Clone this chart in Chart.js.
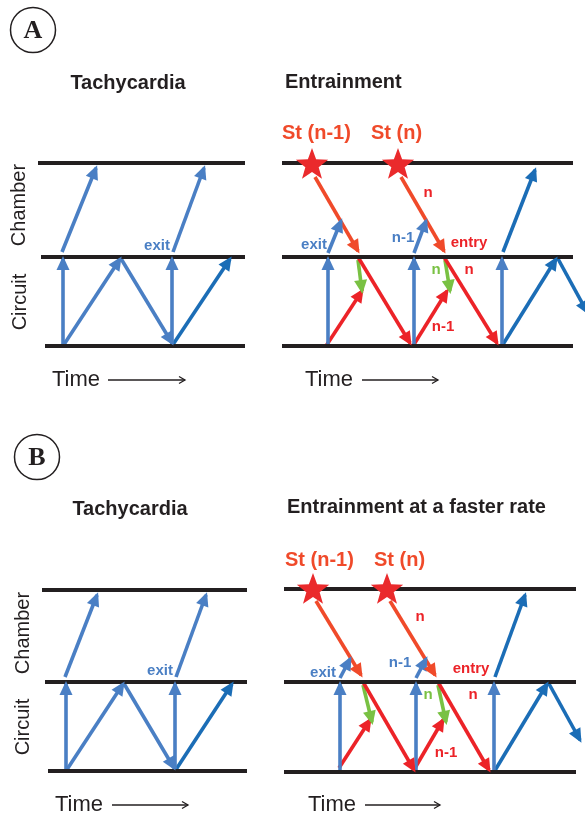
<!DOCTYPE html>
<html><head><meta charset="utf-8">
<script src="https://cdn.jsdelivr.net/npm/chart.js@4.4.1/dist/chart.umd.min.js"></script>
<style>html,body{margin:0;padding:0;background:#fff}canvas{display:block}</style>
</head><body>
<canvas id="c" width="585" height="818"></canvas>
<script>
// diagram units: x to the right, y downward (same grid as the figure)
// rails: [xStart, xEnd, y]
const rails = [
  [38,245,163],[41,245,257],[45,245,346],
  [282,573,163],[282,573,257],[282,573,346],
  [42,247,590],[45,247,682],[48,247,771],
  [284,576,589],[284,576,682],[284,576,772]
];
// arrows: [x1, y1, x2(tip), y2(tip)]
const blueArrows = [
  [63,346,63,259],[63,346,120,259],[120,257,172,343],[172,346,172,259],[62,252,96,168],[173,252,204,168],
  [328,346,328,259],[414,346,414,259],[502,346,502,259],[328,253,341,221],[414,253,426,221],
  [66,771,66,684],[66,771,123,684],[123,682,174,768],[175,771,175,684],[65,677,97,595],[176,677,206,595],
  [340,772,340,684],[416,772,416,684],[494,772,494,684],[340,678,350,659],[416,678,426,659]
];
const darkBlueArrows = [
  [172,346,230,259],
  [502,346,556,259],[557,257,587,312],[503,252,535,170],
  [175,771,232,684],
  [494,772,547,684],[548,682,580,740],[495,677,525,595]
];
const stimArrows = [
  [315,177,358,251],[401,177,444,251],
  [316,601,361,675],[390,601,435,675]
];
const redArrows = [
  [326,346,362,291],[413,346,447,291],[358,257,410,343],[444,257,497,343],
  [339,768,370,720],[415,768,443,720],[363,682,414,770],[438,682,489,770]
];
const greenArrows = [
  [358,260,362,291],[445,260,450,291],
  [363,685,372,722],[438,685,446,722]
];
const timeArrows = [[108,380,185,380],[362,380,438,380],[112,805,188,805],[365,805,440,805]];
const stars = [[312,165],[398,165],[313,590],[387,590]];
const panelCircles = [['A',33,30],['B',37,457]];
// labels: [text, x, y, kind, align]
const labels = [
  ['Tachycardia',128,83,'title','center'],['Entrainment',285,82,'title','left'],
  ['Tachycardia',130,509,'title','center'],['Entrainment at a faster rate',287,507,'title','left'],
  ['St (n-1)',282,133,'stim','left'],['St (n)',371,133,'stim','left'],
  ['St (n-1)',285,560,'stim','left'],['St (n)',374,560,'stim','left'],
  ['exit',157,246,'blue','center'],['exit',314,245,'blue','center'],['n-1',403,238,'blue','center'],
  ['exit',160,671,'blue','center'],['exit',323,673,'blue','center'],['n-1',400,663,'blue','center'],
  ['n',428,193,'red','center'],['entry',469,243,'red','center'],['n',469,270,'red','center'],['n-1',443,327,'red','center'],
  ['n',420,617,'red','center'],['entry',471,669,'red','center'],['n',473,695,'red','center'],['n-1',446,753,'red','center'],
  ['n',436,270,'green','center'],['n',428,695,'green','center'],
  ['Time',52,380,'time','left'],['Time',305,380,'time','left'],['Time',55,805,'time','left'],['Time',308,805,'time','left']
];
const sideLabels = [['Chamber',19,205],['Circuit',20,302],['Chamber',23,633],['Circuit',23,727]];

const COL = {black:'#231f20', blue:'#4a7fc4', dark:'#1b6db6', stim:'#f04a2a', red:'#ec2328', green:'#79c143', starRed:'#ea2a2c'};
const FONT = {
  title:['bold 20px "Liberation Sans", Arial, sans-serif', COL.black],
  stim:['bold 20px "Liberation Sans", Arial, sans-serif', COL.stim],
  blue:['bold 15px "Liberation Sans", Arial, sans-serif', COL.blue],
  red:['bold 15px "Liberation Sans", Arial, sans-serif', COL.red],
  green:['bold 15px "Liberation Sans", Arial, sans-serif', COL.green],
  time:['22px "Liberation Sans", Arial, sans-serif', COL.black]
};

const datasets = [];
function seg(list, color, width, head) {
  list.forEach(a => datasets.push({
    data: [{x:a[0], y:a[1]}, {x:a[2], y:a[3]}],
    borderColor: color, borderWidth: width, showLine: true,
    pointRadius: 0, borderCapStyle: 'butt', head: head
  }));
}
seg(rails.map(r => [r[0], r[2], r[1], r[2]]), COL.black, 4, null);
seg(blueArrows, COL.blue, 3.6, 'fill');
seg(darkBlueArrows, COL.dark, 3.6, 'fill');
seg(stimArrows, COL.stim, 3.6, 'fill');
seg(redArrows, COL.red, 3.6, 'fill');
seg(greenArrows, COL.green, 3.6, 'fill');
seg(timeArrows, COL.black, 1.3, 'open');

const extras = {
  id: 'extras',
  afterDatasetsDraw(chart) {
    const ctx = chart.ctx, sx = chart.scales.x, sy = chart.scales.y;
    ctx.save();
    chart.data.datasets.forEach((ds, i) => {
      if (!ds.head) return;
      const pts = chart.getDatasetMeta(i).data;
      const p0 = pts[0], p1 = pts[1];
      const ang = Math.atan2(p1.y - p0.y, p1.x - p0.x);
      ctx.save();
      ctx.translate(p1.x, p1.y);
      ctx.rotate(ang);
      if (ds.head === 'fill') {
        ctx.fillStyle = ds.borderColor;
        ctx.beginPath();
        ctx.moveTo(3, 0); ctx.lineTo(-11, -6.5); ctx.lineTo(-11, 6.5); ctx.closePath();
        ctx.fill();
      } else {
        ctx.strokeStyle = ds.borderColor; ctx.lineWidth = 1.3;
        ctx.beginPath();
        ctx.moveTo(-6, -3.5); ctx.lineTo(0, 0); ctx.lineTo(-6, 3.5);
        ctx.stroke();
      }
      ctx.restore();
    });
    // stars
    ctx.fillStyle = COL.starRed;
    stars.forEach(s => {
      const cx = sx.getPixelForValue(s[0]), cy = sy.getPixelForValue(s[1]);
      ctx.beginPath();
      for (let k = 0; k < 10; k++) {
        const r = k % 2 ? 7 : 17;
        const a = -Math.PI / 2 + k * Math.PI / 5;
        ctx.lineTo(cx + r * Math.cos(a), cy + r * Math.sin(a));
      }
      ctx.closePath();
      ctx.fill();
    });
    // panel letters
    panelCircles.forEach(c => {
      const cx = sx.getPixelForValue(c[1]), cy = sy.getPixelForValue(c[2]);
      ctx.strokeStyle = COL.black; ctx.lineWidth = 1.5;
      ctx.beginPath(); ctx.arc(cx, cy, 22.5, 0, Math.PI * 2); ctx.stroke();
      ctx.fillStyle = COL.black;
      ctx.font = 'bold 26px "Liberation Serif", "Times New Roman", serif';
      ctx.textAlign = 'center'; ctx.textBaseline = 'middle';
      ctx.fillText(c[0], cx, cy + 1);
    });
    // labels
    ctx.textBaseline = 'middle';
    labels.forEach(l => {
      ctx.font = FONT[l[3]][0]; ctx.fillStyle = FONT[l[3]][1];
      ctx.textAlign = l[4];
      ctx.fillText(l[0], sx.getPixelForValue(l[1]), sy.getPixelForValue(l[2]));
    });
    ctx.font = '20px "Liberation Sans", Arial, sans-serif';
    ctx.fillStyle = COL.black; ctx.textAlign = 'center';
    sideLabels.forEach(l => {
      ctx.save();
      ctx.translate(sx.getPixelForValue(l[1]), sy.getPixelForValue(l[2]));
      ctx.rotate(-Math.PI / 2);
      ctx.fillText(l[0], 0, 0);
      ctx.restore();
    });
    ctx.restore();
  }
};

new Chart(document.getElementById('c'), {
  type: 'scatter',
  data: { datasets: datasets },
  options: {
    responsive: false, animation: false,
    layout: { padding: 0 },
    plugins: { legend: { display: false }, tooltip: { enabled: false } },
    scales: {
      x: { type: 'linear', min: 0, max: 585, display: false },
      y: { type: 'linear', min: 0, max: 818, reverse: true, display: false }
    }
  },
  plugins: [extras]
});
</script>
</body></html>
